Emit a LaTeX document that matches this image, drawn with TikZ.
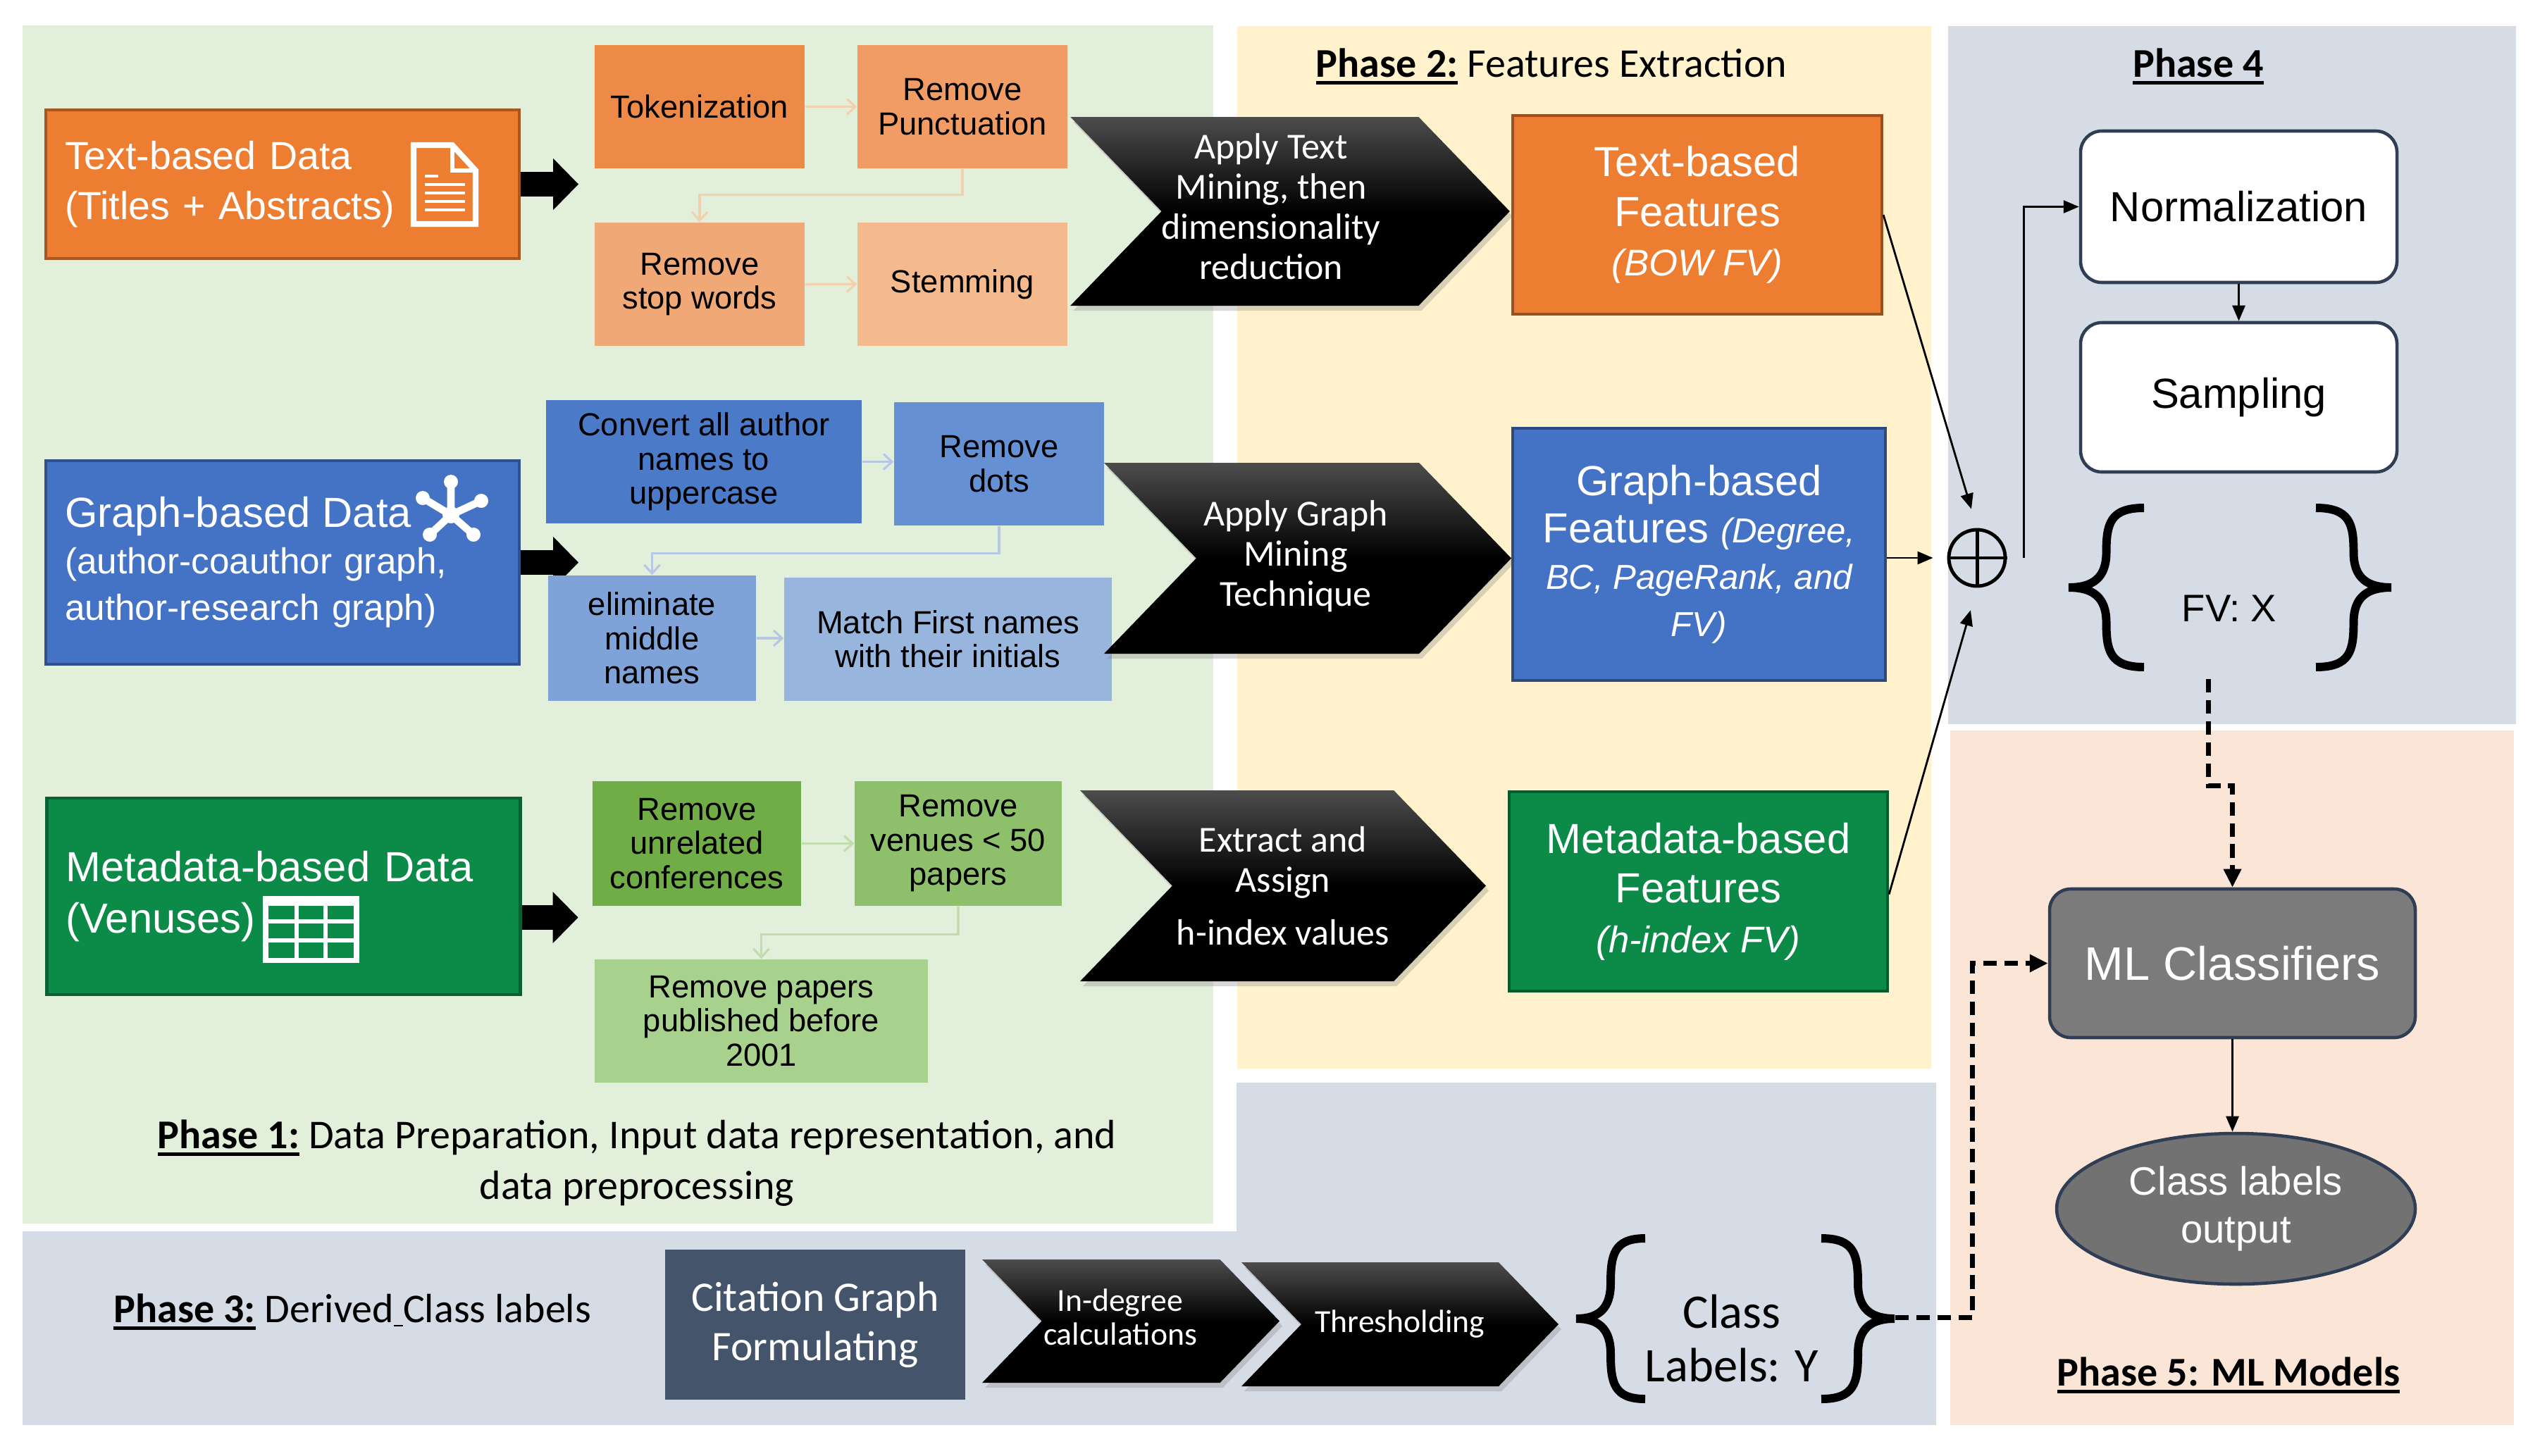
\documentclass[tikz,border=0pt]{standalone}
\usepackage{fontspec}
\setmainfont{Liberation Sans}
\newfontfamily\calib{Carlito}
\usetikzlibrary{calc,arrows.meta,shapes.symbols,shapes.geometric,shadows}

\definecolor{phaseone}{HTML}{E2EFDA}
\definecolor{phasetwo}{HTML}{FFF2CC}
\definecolor{phasegrey}{HTML}{D6DCE5}
\definecolor{phasefive}{HTML}{FBE5D6}
\definecolor{orangemain}{HTML}{ED7D31}
\definecolor{tokcol}{HTML}{EE8A48}
\definecolor{punctcol}{HTML}{F09C64}
\definecolor{stopcol}{HTML}{F1A877}
\definecolor{stemcol}{HTML}{F4BA8E}
\definecolor{bluemain}{HTML}{4472C4}
\definecolor{uppcol}{HTML}{4A7AC8}
\definecolor{dotcol}{HTML}{6590D3}
\definecolor{elimcol}{HTML}{7FA2D8}
\definecolor{matchcol}{HTML}{98B5DD}
\definecolor{greenmain}{HTML}{0C8A48}
\definecolor{unrelcol}{HTML}{70AD47}
\definecolor{venuecol}{HTML}{8EC06B}
\definecolor{beforecol}{HTML}{A9D18E}
\definecolor{slate}{HTML}{44546A}
\definecolor{mlgrey}{HTML}{7B7B7B}
\definecolor{outgrey}{HTML}{727272}
\definecolor{navyline}{HTML}{2F3E55}
\definecolor{tanline}{HTML}{F2D2AE}
\definecolor{blueline}{HTML}{B7C8E4}
\definecolor{greenline}{HTML}{C2DCAE}

\def\bigbrace[#1](#2)(#3:#4){\draw[#1, shift={(#2)}, xscale=#3, yscale=#4] (0.5,0.5) .. controls (0.05,0.5) and (0,0.4) .. (0,0.22) .. controls (0,0.06) and (-0.18,0) .. (-0.5,0) .. controls (-0.18,0) and (0,-0.06) .. (0,-0.22) .. controls (0,-0.4) and (0.05,-0.5) .. (0.5,-0.5);}
\def\leftlines[#1]#2{\begin{tabular}{@{}c@{}}#2\end{tabular}\rule{#1}{0pt}}
\newcommand\phaseul[1]{\setbox0\hbox{#1}\rlap{\rule[-3pt]{\wd0}{1.3pt}}\box0{}}
\newcommand\featit{\itshape\fontsize{15}{20}\selectfont}
\newcommand\graphit{\itshape\fontsize{14}{19}\selectfont}

\tikzset{
  databox/.style={draw=#1!70!black, line width=1.2pt, fill=#1, text=white, align=left, inner sep=0.27cm, text width=6.18cm},
  stepbox/.style={fill=#1, text=black, align=center, inner sep=2pt, minimum height=1.75cm, font=\fontsize{12.9}{13.8}\selectfont},
  chevron/.style={signal, signal to=east, signal from=west, signal pointer angle=92, top color=black!70, bottom color=black, middle color=black, text=white, align=center, inner sep=0pt, drop shadow={shadow xshift=0.04cm, shadow yshift=-0.07cm, opacity=0.3}, font=\calib\fontsize{14.8}{16.2}\selectfont},
  featbox/.style={draw=#1!65!black, line width=1.2pt, fill=#1, text=white, align=center, font=\fontsize{17}{20}\selectfont},
  roundbox/.style={rounded corners=0.3cm, draw=navyline, line width=1.3pt, align=center},
  phasetitle/.style={align=center, font=\calib\fontsize{16.5}{20.5}\selectfont},
  thinarrow/.style={-{Triangle[length=2.2mm,width=1.8mm]}, line width=0.8pt},
  fadearrow/.style={-{Straight Barb[length=1.2mm,width=2.2mm]}, line width=0.9pt, draw=#1},
  dasharrow/.style={-{Triangle[length=2.6mm,width=2.4mm]}, line width=2pt, dash pattern=on 5.5pt off 3pt},
  blockarrow/.style={line width=9.7pt, -{Triangle[length=3.6mm 0 0,width=7.1mm 0 0]}}
}

\begin{document}
\begin{tikzpicture}
  %%%%% PANELS %%%%%
  \useasboundingbox (0,0) rectangle (36.15,-20.66);
  \fill[white] (0,0) rectangle (36.15,-20.66);
  \fill[phaseone] (0.32,-0.36) rectangle (17.22,-17.37);
  \fill[phasetwo] (17.56,-0.37) rectangle (27.41,-15.17);
  \fill[phasegrey] (27.65,-0.37) rectangle (35.71,-10.28);
  \fill[phasefive] (27.68,-10.37) rectangle (35.68,-20.23);
  \fill[phasegrey] (0.32,-17.48) -- (17.55,-17.48) -- (17.55,-15.37) -- (27.48,-15.37) -- (27.48,-20.23) -- (0.32,-20.23) -- cycle;

  %%%%% PHASE 1 %%%%%
  \node[databox=orangemain, minimum height=2.11cm, font=\fontsize{15.8}{20}\selectfont] (txtdata) at (4.01,-2.615) {Text-based Data\\(Titles + Abstracts)};
  \node[databox=bluemain, minimum height=2.89cm, font=\fontsize{14.6}{18.8}\selectfont] (grdata) at (4.01,-7.985) {{\fontsize{17}{19}\selectfont Graph-based Data}\\(author-coauthor graph,\\author-research graph)};
  \node[databox=greenmain, minimum height=2.79cm, font=\fontsize{17}{20.5}\selectfont] (metadata) at (4.025,-12.725) {Metadata-based Data\\(Venuses)};

  % document icon
  \draw[white, line width=2.3pt] (5.87,-2.06) -- (6.42,-2.06) -- (6.75,-2.42) -- (6.75,-3.18) -- (5.87,-3.18) -- cycle;
  \draw[white, line width=1.8pt] (6.42,-2.06) -- (6.42,-2.42) -- (6.75,-2.42);
  \draw[white, line width=1.2pt] (6.03,-2.50) -- (6.22,-2.50);
  \draw[white, line width=1.2pt] (6.03,-2.62) -- (6.60,-2.62);
  \draw[white, line width=1.2pt] (6.03,-2.74) -- (6.60,-2.74);
  \draw[white, line width=1.2pt] (6.03,-2.86) -- (6.60,-2.86);
  \draw[white, line width=1.2pt] (6.03,-2.98) -- (6.60,-2.98);

  % network icon
  \draw[white, line width=3pt] (6.40,-7.31) -- (6.40,-6.84) (6.40,-7.31) -- (6.00,-7.07) (6.40,-7.31) -- (6.83,-7.11) (6.40,-7.31) -- (6.10,-7.59) (6.40,-7.31) -- (6.72,-7.59);
  \fill[white] (6.40,-7.31) circle (0.12);
  \fill[white] (6.40,-6.84) circle (0.1);
  \fill[white] (6.00,-7.07) circle (0.1);
  \fill[white] (6.83,-7.11) circle (0.1);
  \fill[white] (6.10,-7.59) circle (0.1);
  \fill[white] (6.72,-7.59) circle (0.1);

  % table icon
  \draw[white, line width=2pt] (3.77,-12.75) rectangle (5.06,-13.63);
  \fill[white] (3.77,-12.75) rectangle (5.06,-12.86);
  \draw[white, line width=1.6pt] (3.77,-13.08) -- (5.06,-13.08) (3.77,-13.35) -- (5.06,-13.35) (4.21,-12.86) -- (4.21,-13.63) (4.62,-12.86) -- (4.62,-13.63);

  \draw[blockarrow] (txtdata.east) -- ++(0.82,0);
  \draw[blockarrow] (grdata.east) -- ++(0.82,0);
  \draw[blockarrow] ([yshift=-0.3cm]metadata.east) -- ++(0.8,0);

  \node[stepbox=tokcol, minimum width=2.98cm] (tok) at (9.93,-1.515) {Tokenization};
  \node[stepbox=punctcol, minimum width=2.98cm] (punct) at (13.66,-1.515) {Remove\\Punctuation};
  \node[stepbox=stopcol, minimum width=2.98cm] (stopw) at (9.93,-4.035) {Remove\\stop words};
  \node[stepbox=stemcol, minimum width=2.98cm] (stem) at (13.66,-4.035) {Stemming};

  \node[stepbox=uppcol, minimum width=4.48cm] (upper) at (9.99,-6.555) {Convert all author\\names to\\uppercase};
  \node[stepbox=dotcol, minimum width=2.98cm] (dots) at (14.18,-6.585) {Remove\\dots};
  \node[stepbox=elimcol, minimum width=2.95cm, minimum height=1.78cm] (elim) at (9.255,-9.06) {eliminate\\middle\\names};
  \node[stepbox=matchcol, minimum width=4.65cm] (match) at (13.455,-9.075) {Match First names\\with their initials};

  \node[stepbox=unrelcol, minimum width=2.96cm, minimum height=1.77cm] (unrel) at (9.89,-11.975) {Remove\\unrelated\\conferences};
  \node[stepbox=venuecol, minimum width=2.94cm, minimum height=1.77cm] (venues) at (13.60,-11.975) {Remove\\venues < 50\\papers};
  \node[stepbox=beforecol, minimum width=4.73cm] (before) at (10.805,-14.495) {Remove papers\\published before\\2001};

  \draw[fadearrow=tanline] (tok) -- (punct);
  \draw[fadearrow=tanline] (punct.south) -- ++(0,-0.37) -| (stopw.north);
  \draw[fadearrow=tanline] (stopw) -- (stem);
  \draw[fadearrow=blueline] (upper.east) -- (upper.east -| dots.west);
  \draw[fadearrow=blueline] (dots.south) -- ++(0,-0.39) -| (elim.north);
  \draw[fadearrow=blueline] (elim.east) -- (elim.east -| match.west);
  \draw[fadearrow=greenline] (unrel) -- (venues);
  \draw[fadearrow=greenline] (venues.south) -- ++(0,-0.4) -| (before.north);

  \node[phasetitle] (ponetitle) at (9.04,-16.51) {\phaseul{\textbf{Phase 1:}} Data Preparation, Input data representation, and\\data preprocessing};

  %%%%% PHASE 2 %%%%%
  \node[phasetitle] (ptwotitle) at (22.02,-0.94) {\phaseul{\textbf{Phase 2:}} Features Extraction};

  \node[chevron, minimum width=6.20cm, minimum height=2.68cm] (mintext) at (18.31,-3.00) {\leftlines[0.54cm]{Apply Text\\Mining, then\\dimensionality\\reduction}};
  \node[chevron, minimum width=5.78cm, minimum height=2.71cm] (mingraph) at (18.56,-7.925) {\leftlines[0.34cm]{Apply Graph\\Mining\\Technique}};
  \node[chevron, minimum width=5.76cm, minimum height=2.71cm] (assign) at (18.21,-12.575) {Extract and\\Assign\\[5pt]h-index values};

  \node[featbox=orangemain, minimum width=5.24cm, minimum height=2.82cm] (txtfeat) at (24.09,-3.05) {Text-based\\Features\\{\featit (BOW FV)}};
  \node[featbox=bluemain, minimum width=5.29cm, minimum height=3.58cm, font=\fontsize{17}{19}\selectfont] (grfeat) at (24.115,-7.87) {Graph-based\\Features {\graphit (Degree,}\\{\graphit BC, PageRank, and}\\{\graphit FV)}};
  \node[featbox=greenmain, minimum width=5.37cm, minimum height=2.83cm] (metafeat) at (24.105,-12.655) {Metadata-based\\Features\\{\featit (h-index FV)}};

  %%%%% PHASE 4 %%%%%
  \node[phasetitle] (pfourtitle) at (31.2,-0.94) {\phaseul{\textbf{Phase 4}}};
  \node[roundbox, fill=white, minimum width=4.49cm, minimum height=2.15cm, font=\fontsize{17}{20}\selectfont] (norm) at (31.775,-2.935) {Normalization};
  \node[roundbox, fill=white, minimum width=4.49cm, minimum height=2.12cm, font=\fontsize{17}{20}\selectfont] (samp) at (31.775,-5.64) {Sampling};
  \node[circle, draw, line width=1.4pt, minimum size=0.8cm, inner sep=0pt] (plus) at (28.06,-7.92) {};
  \draw[line width=1.4pt] (plus.north) -- (plus.south) (plus.west) -- (plus.east);

  \node[font=\fontsize{15.5}{18}\selectfont] (fvx) at (31.64,-8.64) {FV: X};
  \bigbrace[line width=3.4pt](29.895,-8.34)(1.07:2.26);
  \bigbrace[line width=3.4pt](33.405,-8.34)(-1.07:2.26);

  \draw[thinarrow, shorten >=0.28cm] (txtfeat.east) -- (plus.north);
  \draw[thinarrow, shorten >=0.2cm] (grfeat.east |- plus) -- (plus.west);
  \draw[thinarrow, shorten >=0.33cm] ([yshift=-0.04cm]metafeat.east) -- (plus.south);
  \draw[thinarrow] ([xshift=0.24cm]plus.east) |- (norm.west);
  \draw[thinarrow] (norm) -- (samp);

  %%%%% PHASE 5 %%%%%
  \node[roundbox, fill=mlgrey, text=white, minimum width=5.19cm, minimum height=2.11cm, font=\fontsize{19}{22}\selectfont] (ml) at (31.685,-13.675) {ML Classifiers};
  \node[ellipse, draw=navyline, line width=1.3pt, fill=outgrey, text=white, minimum width=5.09cm, minimum height=2.14cm, align=center, font=\fontsize{16}{19.5}\selectfont] (clsout) at (31.735,-17.16) {Class labels\\output};
  \draw[thinarrow] (ml.south) -- (ml.south |- clsout.north);
  \node[phasetitle] (pfivetitle) at (31.63,-19.52) {\phaseul{\textbf{Phase 5: ML Models}}};

  \coordinate (fvbot) at (31.34,-9.64);
  \draw[dasharrow] (fvbot) -- (31.34,-11.15) -| (ml.north);

  %%%%% PHASE 3 %%%%%
  \node[phasetitle, anchor=west] (pthreetitle) at (1.49,-18.62) {\phaseul{\textbf{Phase 3:}} Derived\underline{\ }Class labels};
  \node[fill=slate, text=white, minimum width=4.26cm, minimum height=2.13cm, align=center, font=\calib\fontsize{17}{20}\selectfont] (citation) at (11.57,-18.805) {Citation Graph\\Formulating};
  \node[chevron, minimum width=4.22cm, minimum height=1.75cm, font=\calib\fontsize{13}{13.7}\selectfont] (indeg) at (16.05,-18.755) {\leftlines[0.3cm]{In-degree\\calculations}};
  \node[chevron, minimum width=4.50cm, minimum height=1.76cm, font=\calib\fontsize{13}{13.7}\selectfont] (thresh) at (19.87,-18.80) {Thresholding};

  \node[align=center, font=\calib\fontsize{19.5}{21.5}\selectfont] (clslab) at (24.58,-19.0) {Class\\Labels: Y};
  \bigbrace[line width=3.4pt](22.86,-18.72)(0.98:2.28);
  \bigbrace[line width=3.4pt](26.37,-18.72)(-1.04:2.28);

  \coordinate (clstip) at (26.90,-18.70);
  \draw[dasharrow] (clstip) -- ++(1.09,0) |- (ml.west);
\end{tikzpicture}
\end{document}
